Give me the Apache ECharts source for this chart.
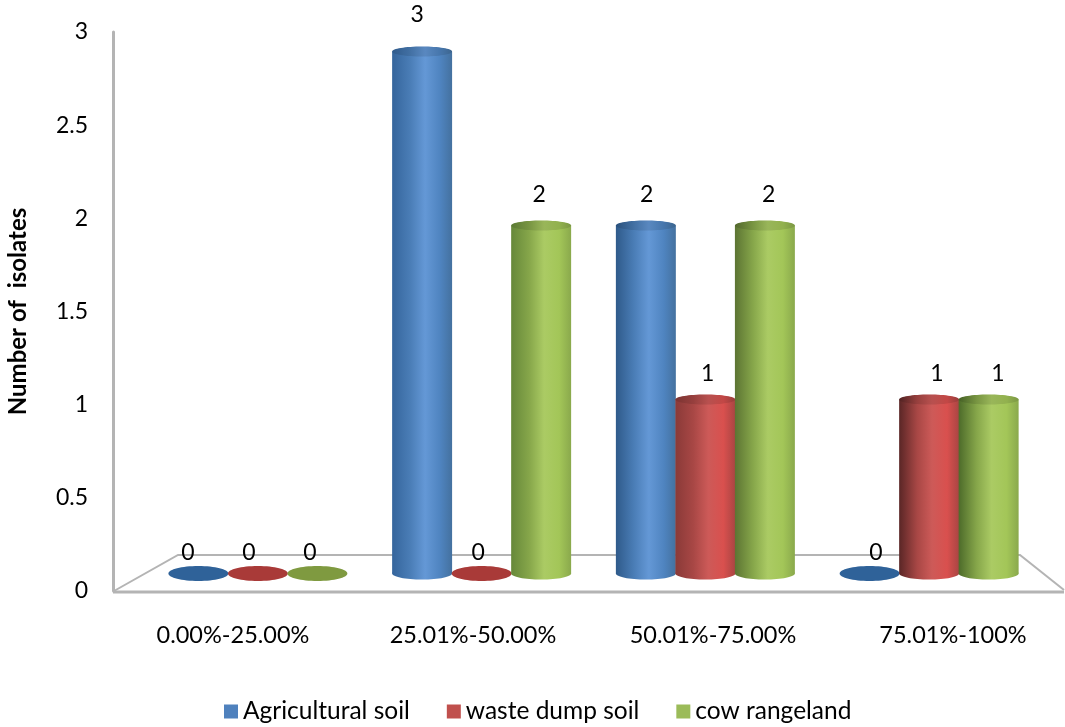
<!DOCTYPE html>
<html>
<head>
<meta charset="utf-8">
<style>html,body{margin:0;padding:0;background:#fff}#chart{width:1065px;height:727px}</style>
<script src="https://cdn.jsdelivr.net/npm/echarts@6/dist/echarts.min.js"></script>
</head>
<body>
<div id="chart"></div>
<script>
const categories = ['0.00%-25.00%', '25.01%-50.00%', '50.01%-75.00%', '75.01%-100%'];
const agricultural = [0, 3, 2, 0];
const wasteDump = [0, 0, 1, 1];
const cowRangeland = [0, 2, 2, 1];
const seriesNames = ['Agricultural soil', 'waste dump soil', 'cow rangeland'];
const seriesValues = [agricultural, wasteDump, cowRangeland];
const legendColors = ['#4f81bd', '#c0504d', '#9bbb59'];
const flatColors = ['#2f6299', '#a93a38', '#7f9a40'];
// Shading across each cylinder: mid, highlight, mid, far edge
const shades = [
  ['#4a7db6', '#6498d6', '#4f84c0', '#44719f'],
  ['#a84745', '#cd5a58', '#d9504e', '#a94543'],
  ['#86a64a', '#abcb64', '#a3c658', '#8aa94c']
];
// Shadow edge deepens towards the right of the floor
const edgeByCategory = [
  ['#35659c', '#35659c', '#2f5a8a', '#2f5a8a'],
  ['#8a3a38', '#8a3a38', '#8a3a38', '#5a2626'],
  ['#66883a', '#66883a', '#5c7433', '#4d6b2a']
];
const FONT = 'Lato';

const cylinder = (seriesIndex, offset) => (params, api) => {
  const value = api.value(1);
  const category = api.value(0);
  const base = api.coord([category, 0]);
  const top = api.coord([category, value]);
  const band = api.size([1, 0])[0];
  const cx = base[0] + offset * band;
  const rx = band * 0.134;
  if (value === 0) {
    return { type: 'ellipse', shape: { cx, cy: base[1], rx, ry: 7.5 }, style: { fill: flatColors[seriesIndex] } };
  }
  const s = shades[seriesIndex];
  const edge = edgeByCategory[seriesIndex][category];
  const fill = new echarts.graphic.LinearGradient(0, 0, 1, 0, [
    { offset: 0, color: edge }, { offset: 0.3, color: s[0] }, { offset: 0.55, color: s[1] },
    { offset: 0.8, color: s[2] }, { offset: 1, color: s[3] }
  ]);
  return {
    type: 'group',
    children: [
      { type: 'ellipse', shape: { cx, cy: base[1], rx, ry: 6 }, style: { fill } },
      { type: 'rect', shape: { x: cx - rx, y: top[1], width: rx * 2, height: base[1] - top[1] }, style: { fill } },
      { type: 'ellipse', shape: { cx, cy: top[1], rx, ry: 5 }, style: { fill } },
      { type: 'ellipse', shape: { cx, cy: top[1], rx, ry: 5 }, style: { fill: '#000', opacity: 0.1 } }
    ]
  };
};

const valueLabel = (offset) => (params, api) => {
  const pos = api.coord([api.value(0), api.value(1)]);
  const band = api.size([1, 0])[0];
  return {
    type: 'text',
    style: {
      x: pos[0] + offset * band, y: pos[1], text: String(api.value(1)),
      textAlign: 'center', textVerticalAlign: 'middle',
      font: '23px ' + FONT, fill: '#000'
    }
  };
};

const offsets = [-0.266, 0, 0.266];
const barSeries = seriesNames.map((name, i) => ({
  name, type: 'custom', xAxisIndex: 1, yAxisIndex: 1, clip: false, z: 3 + i,
  itemStyle: { color: legendColors[i] },
  data: categories.map((c, k) => [k, seriesValues[i][k]]),
  encode: { x: 0, y: 1 },
  renderItem: cylinder(i, offsets[i])
}));
const labelSeries = seriesNames.map((name, i) => ({
  name: name + ' labels', type: 'custom', xAxisIndex: 2, yAxisIndex: 2, clip: false, z: 10,
  data: categories.map((c, k) => [k, seriesValues[i][k]]),
  encode: { x: 0, y: 1 },
  renderItem: valueLabel(offsets[i])
}));

const hiddenX = (gridIndex) => ({
  type: 'category', gridIndex, data: categories, show: false
});
const hiddenY = (gridIndex) => ({
  type: 'value', gridIndex, min: 0, max: 3, interval: 0.5, show: false
});

const floorLine = '#b4b4b4';
const chart = echarts.init(document.getElementById('chart'));
chart.setOption({
  animation: false,
  backgroundColor: '#fff',
  textStyle: { fontFamily: FONT },
  grid: [
    // front plane: axes and tick labels
    { left: 113, top: 32, width: 960, height: 559, outerBoundsMode: 'none' },
    // depth plane: cylinders
    { left: 146, top: 51.5, width: 895, height: 522, outerBoundsMode: 'none' },
    // data label plane
    { left: 134.3, top: 15, width: 917.3, height: 538, outerBoundsMode: 'none' }
  ],
  xAxis: [
    {
      type: 'category', gridIndex: 0, data: categories,
      axisLine: { show: false }, axisTick: { show: false },
      axisLabel: { color: '#000', fontSize: 23.5, margin: 32, fontFamily: FONT }
    },
    hiddenX(1), hiddenX(2)
  ],
  yAxis: [
    {
      type: 'value', gridIndex: 0, min: 0, max: 3, interval: 0.5,
      name: 'Number of  isolates', nameLocation: 'middle', nameGap: 83, nameRotate: 90,
      nameTextStyle: { color: '#000', fontSize: 24, fontWeight: 'bold', fontFamily: FONT },
      splitLine: { show: false },
      axisLine: { show: true, lineStyle: { color: floorLine, width: 3 } },
      axisTick: { show: false },
      axisLabel: { color: '#000', fontSize: 23, margin: 25, fontFamily: FONT }
    },
    hiddenY(1), hiddenY(2)
  ],
  legend: {
    data: seriesNames, left: 219, top: 694, icon: 'rect',
    itemWidth: 14, itemHeight: 14, itemGap: 37,
    textStyle: { color: '#000', fontSize: 24.5, fontFamily: FONT }
  },
  graphic: [
    { type: 'polyline', z: 0, shape: { points: [[114, 591], [178, 555], [1020, 555], [1064, 590]] }, style: { stroke: floorLine, lineWidth: 2, fill: null } },
    { type: 'line', z: 0, shape: { x1: 113, y1: 592, x2: 1064, y2: 592 }, style: { stroke: floorLine, lineWidth: 3 } }
  ],
  series: barSeries.concat(labelSeries)
});
</script>
</body>
</html>
